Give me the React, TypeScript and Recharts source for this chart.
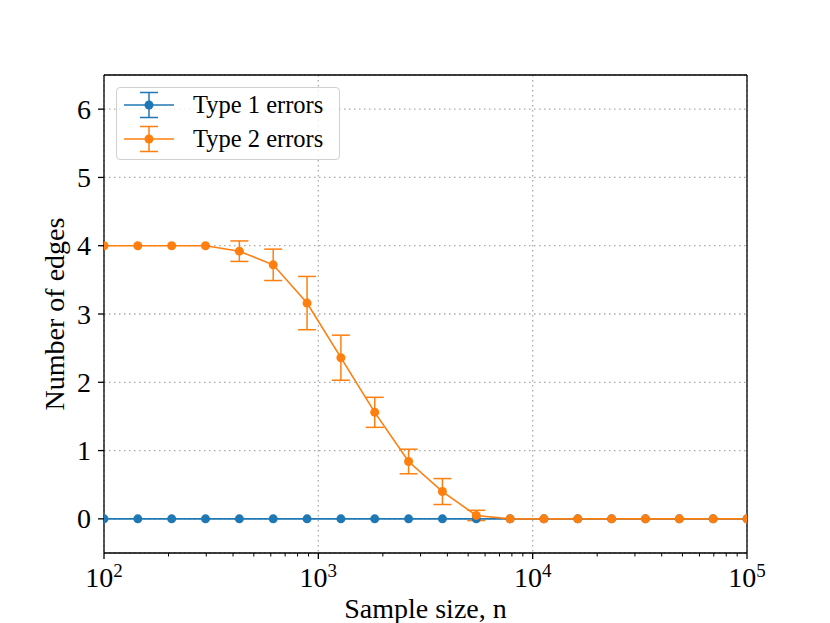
import {
  ComposedChart,
  Line,
  XAxis,
  YAxis,
  CartesianGrid,
  ErrorBar,
  Legend,
} from "recharts";

const sampleSizes = [
  100, 143.8, 206.9, 297.6, 428.1, 615.8, 885.9, 1274.3, 1833.0, 2636.7,
  3792.7, 5455.6, 7847.6, 11288.4, 16237.8, 23357.2, 33598.2, 48329.3,
  69519.3, 100000,
];
const type1Mean = [0, 0, 0, 0, 0, 0, 0, 0, 0, 0, 0, 0, 0, 0, 0, 0, 0, 0, 0, 0];
const type1Err = [0, 0, 0, 0, 0, 0, 0, 0, 0, 0, 0, 0, 0, 0, 0, 0, 0, 0, 0, 0];
const type2Mean = [
  4, 4, 4, 4, 3.92, 3.72, 3.16, 2.36, 1.56, 0.84, 0.4, 0.05, 0, 0, 0, 0, 0, 0,
  0, 0,
];
const type2Err = [
  0, 0, 0, 0, 0.15, 0.23, 0.39, 0.33, 0.22, 0.18, 0.19, 0.075, 0, 0, 0, 0, 0,
  0, 0, 0,
];

const majorTicks = [100, 1000, 10000, 100000];
const minorTicks = [
  200, 300, 400, 500, 600, 700, 800, 900, 2000, 3000, 4000, 5000, 6000, 7000,
  8000, 9000, 20000, 30000, 40000, 50000, 60000, 70000, 80000, 90000,
];
const allXTicks = [...majorTicks, ...minorTicks].sort((a, b) => a - b);
const yTicks = [0, 1, 2, 3, 4, 5, 6];

const data = sampleSizes.map((n, i) => ({
  n,
  t1: type1Mean[i],
  t1e: type1Err[i],
  t2: type2Mean[i],
  t2e: type2Err[i],
}));

const FONT = "'Liberation Serif', 'DejaVu Serif', serif";
const BLUE = "#1f77b4";
const ORANGE = "#ff7f0e";
const TICK_MARGIN = 8;

// draws the tick line itself so minor ticks can be shorter, label only on decades
const XTick = ({ x, y, payload }: any) => {
  const exp = Math.log10(payload.value);
  const isMajor = Math.abs(exp - Math.round(exp)) < 1e-9;
  const y0 = y - TICK_MARGIN;
  return (
    <g>
      <line x1={x} x2={x} y1={y0} y2={y0 + (isMajor ? 6 : 3.5)} stroke="#000" strokeWidth={isMajor ? 1.3 : 1} />
      {isMajor && (
        <text x={x} y={y0 + 34} textAnchor="middle" fontFamily={FONT} fontSize={28} fill="#000">
          <tspan>10</tspan>
          <tspan dy={-10} fontSize={19}>
            {Math.round(exp)}
          </tspan>
        </text>
      )}
    </g>
  );
};

const YTick = ({ x, y, payload }: any) => (
  <text x={x} y={y + 9.5} textAnchor="end" fontFamily={FONT} fontSize={28} fill="#000">
    {payload.value}
  </text>
);

const YLabel = ({ viewBox }: any) => {
  const cx = 64;
  const cy = viewBox.y + viewBox.height / 2;
  return (
    <text
      x={cx}
      y={cy}
      transform={`rotate(-90 ${cx} ${cy})`}
      textAnchor="middle"
      fontFamily={FONT}
      fontSize={28}
      fill="#000"
    >
      Number of edges
    </text>
  );
};

const XLabel = ({ viewBox }: any) => (
  <text
    x={viewBox.x + viewBox.width / 2}
    y={617.5}
    textAnchor="middle"
    fontFamily={FONT}
    fontSize={28}
    fill="#000"
  >
    Sample size, n
  </text>
);

// vertical grid only at the decades, placed through the axis scale
const decadeGrid = ({ xAxis, offset }: any) => {
  const scale = xAxis && xAxis.scale;
  if (typeof scale === "function") {
    return majorTicks.map((t) => scale(t));
  }
  const lo = Math.log10(majorTicks[0]);
  const hi = Math.log10(majorTicks[majorTicks.length - 1]);
  return majorTicks.map(
    (t) => offset.left + ((Math.log10(t) - lo) / (hi - lo)) * offset.width
  );
};

const LegendBox = ({ payload }: any) => (
  <div
    style={{
      boxSizing: "border-box",
      width: 224,
      height: 73,
      border: "1px solid #d0d0d0",
      borderRadius: 4,
      background: "rgba(255,255,255,0.8)",
      position: "relative",
    }}
  >
    {(payload || []).map((entry: any, i: number) => (
      <div
        key={entry.value}
        style={{
          position: "absolute",
          left: 6,
          top: 0.3 + i * 34,
          height: 34,
          display: "flex",
          alignItems: "center",
          whiteSpace: "nowrap",
        }}
      >
        <svg width={52} height={34} style={{ display: "block" }}>
          <line x1={1} x2={51} y1={17} y2={17} stroke={entry.color} strokeWidth={1.5} />
          <line x1={26} x2={26} y1={4.5} y2={29.5} stroke={entry.color} strokeWidth={1.5} />
          <line x1={17} x2={35} y1={4.5} y2={4.5} stroke={entry.color} strokeWidth={1.5} />
          <line x1={17} x2={35} y1={29.5} y2={29.5} stroke={entry.color} strokeWidth={1.5} />
          <circle cx={26} cy={17} r={4.5} fill={entry.color} />
        </svg>
        <span style={{ marginLeft: 18, fontFamily: FONT, fontSize: 24.5, color: "#000", lineHeight: "34px" }}>
          {entry.value}
        </span>
      </div>
    ))}
  </div>
);

export default function App() {
  return (
    <div style={{ position: "absolute", left: 0, top: 0, width: 830, height: 623, background: "#fff" }}>
      <ComposedChart
        width={830}
        height={623}
        data={data}
        margin={{ top: 74, right: 82, bottom: 0, left: 44 }}
        style={{ fontFamily: FONT }}
      >
        <CartesianGrid
          xAxisId="bottom"
          stroke="#aaaaaa"
          strokeDasharray="1.5 3.5"
          strokeWidth={1.3}
          verticalCoordinatesGenerator={decadeGrid}
        />
        <XAxis
          xAxisId="bottom"
          dataKey="n"
          type="number"
          scale="log"
          domain={[100, 100000]}
          allowDataOverflow
          ticks={allXTicks}
          interval={0}
          height={70}
          tick={<XTick />}
          tickSize={0}
          tickMargin={TICK_MARGIN}
          tickLine={false}
          axisLine={{ stroke: "#000", strokeWidth: 1.3 }}
          label={<XLabel />}
        />
        <XAxis
          xAxisId="top"
          orientation="top"
          dataKey="n"
          type="number"
          scale="log"
          domain={[100, 100000]}
          allowDataOverflow
          ticks={majorTicks}
          interval={0}
          height={1}
          tick={false}
          tickLine={false}
          axisLine={{ stroke: "#000", strokeWidth: 1.3 }}
        />
        <YAxis
          type="number"
          domain={[-0.5, 6.5]}
          allowDataOverflow
          ticks={yTicks}
          interval={0}
          width={60}
          tick={<YTick />}
          tickSize={6}
          tickMargin={7}
          tickLine={{ stroke: "#000", strokeWidth: 1.3 }}
          axisLine={{ stroke: "#000", strokeWidth: 1.3 }}
          label={<YLabel />}
        />
        <YAxis
          yAxisId="right"
          orientation="right"
          domain={[0, 1]}
          width={1}
          tick={false}
          tickLine={false}
          axisLine={{ stroke: "#000", strokeWidth: 1.3 }}
        />
        <Legend
          layout="vertical"
          align="center"
          verticalAlign="middle"
          wrapperStyle={{ left: 116, top: 87, width: 224, height: 73 }}
          content={<LegendBox />}
        />
        <Line
          xAxisId="bottom"
          dataKey="t1"
          name="Type 1 errors"
          stroke={BLUE}
          strokeWidth={1.6}
          dot={{ r: 4.5, fill: BLUE, stroke: "none" }}
          activeDot={false}
          isAnimationActive={false}
        >
          <ErrorBar dataKey="t1e" direction="y" width={9} stroke={BLUE} strokeWidth={1.5} isAnimationActive={false} />
        </Line>
        <Line
          xAxisId="bottom"
          dataKey="t2"
          name="Type 2 errors"
          stroke={ORANGE}
          strokeWidth={1.6}
          dot={{ r: 4.5, fill: ORANGE, stroke: "none" }}
          activeDot={false}
          isAnimationActive={false}
        >
          <ErrorBar dataKey="t2e" direction="y" width={9} stroke={ORANGE} strokeWidth={1.5} isAnimationActive={false} />
        </Line>
      </ComposedChart>
    </div>
  );
}
